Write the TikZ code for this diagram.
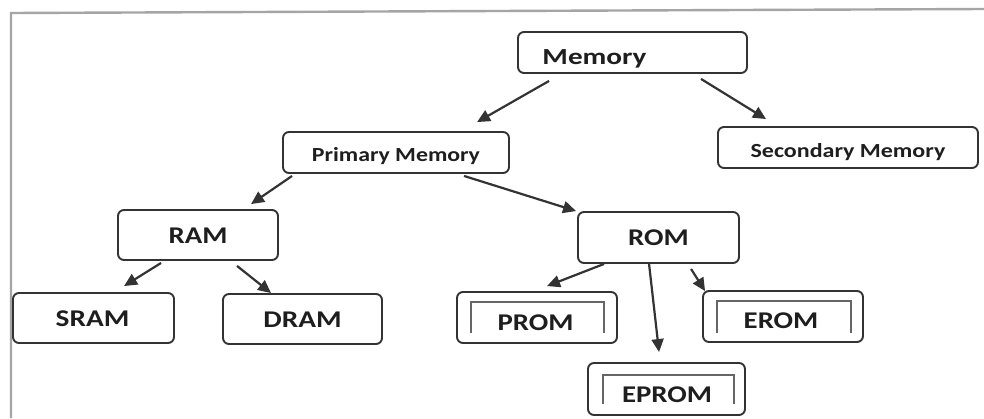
\documentclass[tikz,border=0pt]{standalone}
\usepackage{fontspec}
\setmainfont{Carlito}
\usepackage{graphicx}
\usetikzlibrary{calc,arrows.meta}
\definecolor{edge}{HTML}{333333}
\definecolor{framec}{HTML}{A5A5A5}
\definecolor{ink}{HTML}{1E1E1E}
\definecolor{innerc}{HTML}{666666}
\begin{document}
\begin{tikzpicture}[x=1pt,y=-1pt,
  box/.style={draw=edge, line width=1.9pt, rounded corners=6pt, fill=white, inner sep=0pt},
  lbl/.style={text=ink, font=\bfseries\fontsize{24}{28}\selectfont, text height=15.5pt, text depth=0pt, inner sep=0pt},
  lblm/.style={lbl, font=\bfseries\fontsize{20}{24}\selectfont, text height=12.9pt},
  arr/.style={draw=edge, line width=2.2pt, -{Triangle[length=13pt,width=12pt]}},
  innerb/.style={draw=innerc, line width=1.4pt}]
\useasboundingbox (0,0) rectangle (984,418);
\fill[white] (0,0) rectangle (984,418);
\draw[framec, line width=2.4pt] (11,418) -- (11,13) -- (984,9);

% boxes
\node[box, minimum width=229pt, minimum height=41pt,
  label={[lbl, font=\bfseries\fontsize{23}{27}\selectfont, text height=14.8pt, xshift=-38pt, yshift=-5pt]center:\scalebox{1.27}[1]{Memory}}] (mem) at (632.5,52.5) {};
\node[box, minimum width=226pt, minimum height=41pt,
  label={[lblm, yshift=-3pt]center:\scalebox{1.19}[1]{Primary Memory}}] (pri) at (396,152.5) {};
\node[box, minimum width=260pt, minimum height=41pt,
  label={[lblm, yshift=-4pt]center:\scalebox{1.2}[1]{Secondary Memory}}] (sec) at (848,147.5) {};
\node[box, minimum width=160pt, minimum height=50pt,
  label={[lbl, yshift=-0.5pt]center:\scalebox{1.2}[1]{RAM}}] (ram) at (198,235) {};
\node[box, minimum width=161pt, minimum height=51pt,
  label={[lbl, yshift=-0.5pt]center:\scalebox{1.2}[1]{ROM}}] (rom) at (658.5,237.5) {};
\node[box, minimum width=161pt, minimum height=50pt,
  label={[lbl, xshift=-1pt, yshift=-0.5pt]center:\scalebox{1.22}[1]{SRAM}}] (sram) at (93.5,318) {};
\node[box, minimum width=159pt, minimum height=50pt,
  label={[lbl, yshift=-1pt]center:\scalebox{1.22}[1]{DRAM}}] (dram) at (302.5,319) {};
\node[box, minimum width=160pt, minimum height=51pt,
  label={[lbl, xshift=-1.5pt, yshift=-5pt]center:\scalebox{1.2}[1]{PROM}}] (prom) at (537,317.5) {};
\node[box, minimum width=160pt, minimum height=51pt,
  label={[lbl, xshift=-2pt, yshift=-4pt]center:\scalebox{1.2}[1]{EROM}}] (erom) at (783,316.5) {};
\node[box, minimum width=157pt, minimum height=52pt,
  label={[lbl, xshift=0.5pt, yshift=-5.5pt]center:\scalebox{1.2}[1]{EPROM}}] (eprom) at (666.5,389) {};

% inner brackets
\draw[innerb] ($(prom.south west)+(15,-11)$) |- ($(prom.north east)+(-14,11)$) -- ($(prom.south east)+(-14,-11)$);
\draw[innerb] ($(erom.south west)+(15,-10)$) |- ($(erom.north east)+(-13,11)$) -- ($(erom.south east)+(-13,-10)$);
\draw[innerb] ($(eprom.south west)+(16,-12)$) |- ($(eprom.north east)+(-12,13)$) -- ($(eprom.south east)+(-12,-12)$);

% arrows
\draw[arr] ($(mem.south west)+(32,7)$) -- ($(pri.north west)+(195,-9)$);
\draw[arr] ($(mem.south west)+(184,5)$) -- ($(sec.north west)+(49,-7)$);
\draw[arr] ($(pri.south west)+(10,2)$) -- ($(ram.north west)+(134,-5)$);
\draw[arr] ($(pri.south west)+(182,2)$) -- ($(rom.north west)+(-1,0)$);
\draw[arr] ($(ram.south west)+(44,2)$) -- ($(sram.north west)+(112,-6)$);
\draw[arr] ($(ram.south west)+(120,5)$) -- ($(dram.north west)+(49,0)$);
\draw[arr] ($(rom.south west)+(27,0)$) -- ($(prom.north west)+(91,-5)$);
\draw[arr] ($(rom.south west)+(72,0)$) -- ($(eprom.north west)+(72,-10)$);
\draw[arr] ($(rom.south west)+(114,5)$) -- ($(erom.north west)+(3,1)$);
\end{tikzpicture}
\end{document}
